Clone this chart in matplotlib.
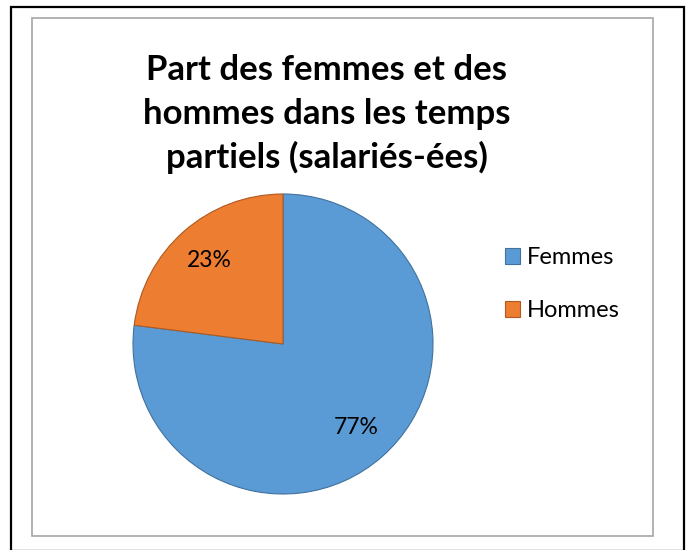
import matplotlib
matplotlib.use("Agg")
import matplotlib.pyplot as plt
from matplotlib.patches import Rectangle

# données
categories = ["Femmes", "Hommes"]
parts = [77, 23]
couleurs = ["#5B9BD5", "#ED7D31"]
bords = ["#41719C", "#AE5A21"]
titre = ["Part des femmes et des", "hommes dans les temps", "partiels (salariés-ées)"]

W, H = 692, 550
plt.rcParams['font.family'] = ['Lato', 'DejaVu Sans']

fig = plt.figure(figsize=(W / 100, H / 100), dpi=100)
fig.patch.set_facecolor("white")


def px(x, y):
    # pixels (origine en haut à gauche) -> coordonnées figure
    return x / W, 1 - y / H


# cadres
x0, y0 = px(11, 551)
x1, y1 = px(684, 7)
fig.add_artist(Rectangle((x0, y0), x1 - x0, y1 - y0, transform=fig.transFigure,
                         fill=False, edgecolor="black", linewidth=1.6))
x0, y0 = px(32, 536)
x1, y1 = px(653, 18)
fig.add_artist(Rectangle((x0, y0), x1 - x0, y1 - y0, transform=fig.transFigure,
                         fill=False, edgecolor="#A6A6A6", linewidth=1.2))

# camembert
cx, cy, r = 283, 344, 150
ax = fig.add_axes([(cx - r) / W, (H - cy - r) / H, 2 * r / W, 2 * r / H])
wedges, textes, autotextes = ax.pie(
    parts, colors=couleurs, startangle=90, counterclock=False,
    autopct=lambda p: f"{p:.0f}%", pctdistance=0.74,
    wedgeprops=dict(linewidth=0.8),
    textprops=dict(fontsize=16.5, color="black"))
for w, b in zip(wedges, bords):
    w.set_edgecolor(b)
ax.set_xlim(-1, 1)
ax.set_ylim(-1, 1)
ax.axis("off")

# titre
for ligne, yb in zip(titre, [80, 124, 168]):
    fig.text(*px(327, yb), ligne, ha="center", va="baseline",
             fontsize=25, fontweight="bold", color="black")

# légende
fig.legend(wedges, categories, loc="upper left",
           bbox_to_anchor=px(496, 238), frameon=False,
           fontsize=17, handlelength=0.62, handleheight=0.62,
           handletextpad=0.3, labelspacing=1.35, borderaxespad=0)

fig.savefig("out.png", dpi=100)
